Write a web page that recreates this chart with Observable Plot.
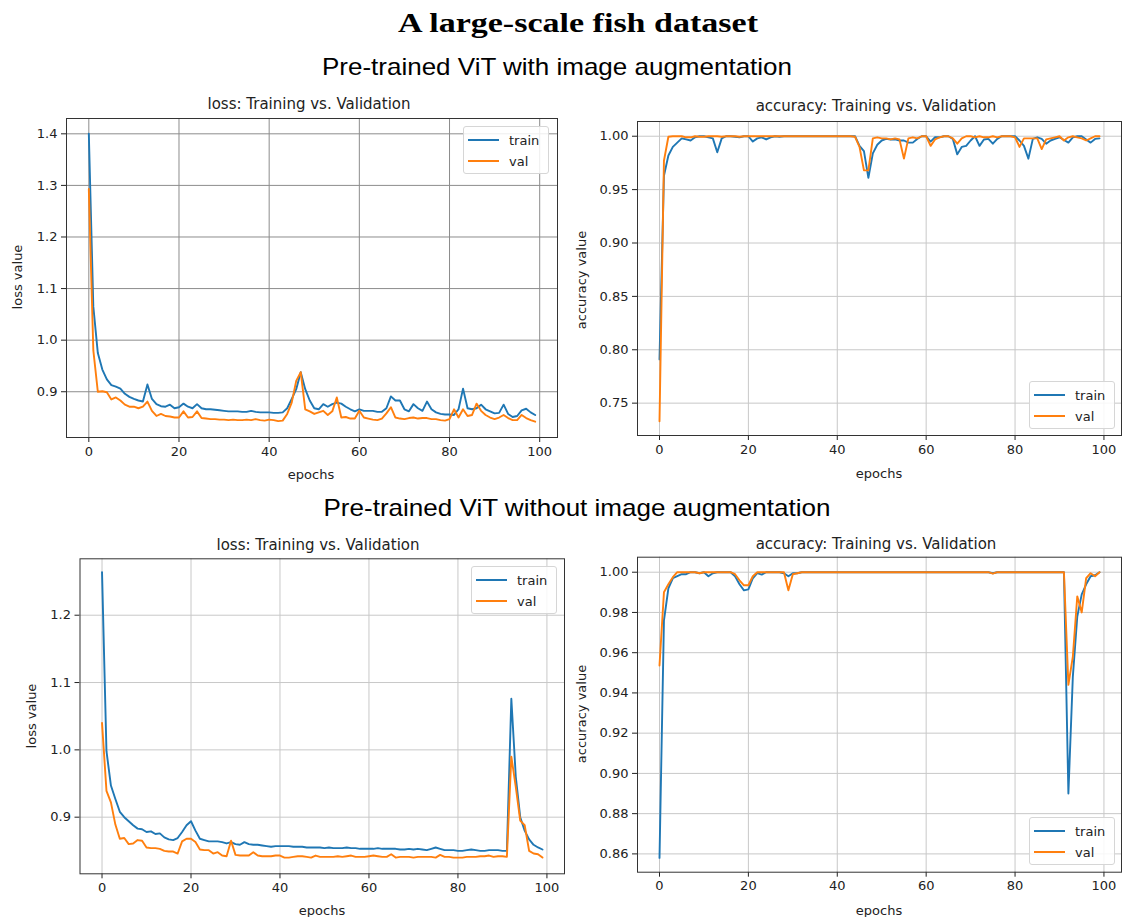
<!DOCTYPE html>
<html>
<head>
<meta charset="utf-8">
<script src="https://cdn.jsdelivr.net/npm/d3@7"></script>
<script src="https://cdn.jsdelivr.net/npm/@observablehq/plot@0.6"></script>
<style>
  html, body { margin: 0; padding: 0; background: #fff; }
  #page { position: relative; width: 1124px; height: 917px; background: #fff; overflow: hidden; }
  .abs { position: absolute; }
  .ptitle { position: absolute; font-family: "DejaVu Sans", sans-serif; font-size: 15px; color: #222; transform: translate(-50%, -50%); white-space: nowrap; }
  .alabel { position: absolute; font-family: "DejaVu Sans", sans-serif; font-size: 13px; color: #222; transform: translate(-50%, -50%); white-space: nowrap; }
  .ylabel { transform: translate(-50%, -50%) rotate(-90deg); }
  .legend { position: absolute; box-sizing: border-box; border: 1px solid #d6d6d6; border-radius: 3px; background: rgba(255,255,255,0.85); font-family: "DejaVu Sans", sans-serif; font-size: 13px; color: #222; }
  .legend .sw { position: absolute; height: 2px; width: 31px; left: 4px; }
  .legend .lt { position: absolute; left: 45px; transform: translateY(-50%); white-space: nowrap; }
</style>
</head>
<body>
<div id="page"></div>
<script>
// ---------------- data ----------------
const epochs = d3.range(100);
const xTicks = [0, 20, 40, 60, 80, 100];
const seriesNames = ["train", "val"];
const seriesColors = ["#1f77b4", "#ff7f0e"];

const mainTitle = "A large-scale fish dataset";
const sectionTitles = ["Pre-trained ViT with image augmentation", "Pre-trained ViT without image augmentation"];
const panelTitles = ["loss: Training vs. Validation", "accuracy: Training vs. Validation"];
const yLabels = ["loss value", "accuracy value"];
const xLabel = "epochs";

// With augmentation: loss
const lossTrainAug = [
  1.400, 1.065, 0.975, 0.943, 0.924, 0.913, 0.910, 0.906, 0.896, 0.890,
  0.886, 0.883, 0.881, 0.914, 0.886, 0.876, 0.872, 0.871, 0.875, 0.868,
  0.870, 0.877, 0.871, 0.868, 0.876, 0.868, 0.866, 0.866, 0.865, 0.864,
  0.863, 0.862, 0.862, 0.862, 0.861, 0.861, 0.863, 0.861, 0.860, 0.860,
  0.860, 0.859, 0.859, 0.860, 0.868, 0.886, 0.905, 0.938, 0.905, 0.883,
  0.868, 0.866, 0.876, 0.871, 0.876, 0.879, 0.877, 0.871, 0.866, 0.862,
  0.866, 0.863, 0.863, 0.863, 0.861, 0.861, 0.868, 0.891, 0.883, 0.883,
  0.866, 0.862, 0.876, 0.868, 0.863, 0.881, 0.866, 0.860, 0.857, 0.856,
  0.856, 0.855, 0.866, 0.906, 0.868, 0.866, 0.868, 0.875, 0.866, 0.862,
  0.858, 0.859, 0.875, 0.857, 0.851, 0.853, 0.864, 0.867, 0.860, 0.855
];
const lossValAug = [
  1.293, 0.980, 0.900, 0.901, 0.899, 0.885, 0.889, 0.883, 0.875, 0.871,
  0.871, 0.868, 0.871, 0.881, 0.863, 0.853, 0.857, 0.853, 0.852, 0.850,
  0.850, 0.862, 0.850, 0.851, 0.862, 0.849, 0.848, 0.847, 0.847, 0.846,
  0.846, 0.845, 0.846, 0.845, 0.845, 0.846, 0.845, 0.847, 0.845, 0.844,
  0.846, 0.845, 0.843, 0.844, 0.857, 0.879, 0.921, 0.938, 0.866, 0.862,
  0.857, 0.860, 0.863, 0.855, 0.862, 0.889, 0.850, 0.851, 0.848, 0.848,
  0.863, 0.850, 0.848, 0.846, 0.845, 0.848, 0.858, 0.870, 0.850, 0.848,
  0.847, 0.849, 0.850, 0.848, 0.849, 0.849, 0.847, 0.847, 0.845, 0.844,
  0.847, 0.866, 0.850, 0.866, 0.853, 0.855, 0.877, 0.863, 0.855, 0.850,
  0.847, 0.850, 0.855, 0.849, 0.845, 0.845, 0.855, 0.849, 0.845, 0.842
];
// With augmentation: accuracy
const accTrainAug = [
  0.791, 0.963, 0.982, 0.990, 0.994, 0.998, 0.997, 0.996, 0.999, 1.000,
  1.000, 0.999, 0.998, 0.985, 0.998, 1.000, 1.000, 0.9995, 0.999, 1.000,
  1.000, 0.995, 0.998, 0.999, 0.997, 0.999, 1.000, 0.9995, 1.000, 1.000,
  1.000, 1.000, 1.000, 1.000, 1.000, 1.000, 1.000, 1.000, 1.000, 1.000,
  1.000, 1.000, 1.000, 1.000, 1.000, 0.991, 0.986, 0.961, 0.984, 0.992,
  0.996, 0.9975, 0.997, 0.997, 0.996, 0.996, 0.994, 0.994, 0.9975, 1.000,
  1.000, 0.995, 0.999, 0.999, 1.000, 1.000, 0.9975, 0.983, 0.990, 0.991,
  0.996, 1.000, 0.991, 0.997, 0.9975, 0.993, 0.9975, 1.000, 1.000, 1.000,
  1.000, 0.996, 0.991, 0.979, 0.9975, 0.999, 0.9975, 0.993, 0.996, 0.9975,
  0.999, 0.9965, 0.994, 0.999, 1.000, 1.000, 0.997, 0.994, 0.9975, 0.998
];
const accValAug = [
  0.733, 0.977, 0.9995, 1.000, 1.000, 1.000, 0.999, 0.999, 1.000, 0.9995,
  0.9995, 1.000, 1.000, 1.000, 0.9995, 1.000, 1.000, 1.000, 0.9995, 1.000,
  1.000, 1.000, 1.000, 1.000, 1.000, 1.000, 1.000, 1.000, 1.000, 1.000,
  1.000, 1.000, 1.000, 1.000, 1.000, 1.000, 1.000, 1.000, 1.000, 1.000,
  1.000, 1.000, 1.000, 1.000, 0.9995, 0.990, 0.968, 0.968, 0.998, 0.999,
  0.998, 0.998, 0.997, 0.998, 0.997, 0.979, 0.998, 0.999, 0.998, 1.000,
  1.000, 0.991, 0.997, 0.999, 1.000, 1.000, 0.998, 0.993, 0.998, 1.000,
  1.000, 0.999, 1.000, 0.999, 0.999, 1.000, 0.999, 1.000, 1.000, 1.000,
  0.999, 0.990, 0.998, 0.998, 0.998, 0.998, 0.988, 0.997, 0.998, 0.999,
  1.000, 0.996, 0.999, 1.000, 0.999, 0.998, 0.996, 0.998, 1.000, 1.000
];
// Without augmentation: loss
const lossTrainNoAug = [
  1.264, 0.998, 0.947, 0.927, 0.908, 0.900, 0.894, 0.888, 0.883, 0.882,
  0.878, 0.879, 0.875, 0.876, 0.870, 0.867, 0.866, 0.869, 0.878, 0.888,
  0.894, 0.880, 0.868, 0.866, 0.864, 0.864, 0.864, 0.863, 0.861, 0.863,
  0.860, 0.859, 0.863, 0.860, 0.859, 0.859, 0.858, 0.857, 0.856, 0.857,
  0.857, 0.857, 0.857, 0.856, 0.856, 0.856, 0.855, 0.855, 0.855, 0.855,
  0.854, 0.855, 0.854, 0.854, 0.854, 0.855, 0.854, 0.854, 0.853, 0.853,
  0.853, 0.853, 0.854, 0.853, 0.853, 0.853, 0.853, 0.852, 0.852, 0.853,
  0.852, 0.853, 0.852, 0.851, 0.853, 0.855, 0.853, 0.851, 0.851, 0.851,
  0.850, 0.850, 0.851, 0.852, 0.851, 0.850, 0.850, 0.851, 0.851, 0.851,
  0.850, 0.850, 1.076, 0.960, 0.900, 0.880, 0.867, 0.859, 0.855, 0.852
];
const lossValNoAug = [
  1.040, 0.939, 0.922, 0.889, 0.868, 0.869, 0.860, 0.861, 0.866, 0.865,
  0.855, 0.854, 0.854, 0.853, 0.850, 0.849, 0.849, 0.846, 0.864, 0.868,
  0.868, 0.863, 0.852, 0.851, 0.851, 0.846, 0.848, 0.843, 0.842, 0.865,
  0.844, 0.843, 0.843, 0.843, 0.848, 0.843, 0.842, 0.842, 0.842, 0.843,
  0.843, 0.840, 0.840, 0.841, 0.842, 0.842, 0.841, 0.840, 0.843, 0.841,
  0.841, 0.841, 0.841, 0.842, 0.841, 0.842, 0.843, 0.841, 0.841, 0.841,
  0.842, 0.843, 0.842, 0.841, 0.841, 0.845, 0.840, 0.841, 0.841, 0.841,
  0.840, 0.841, 0.841, 0.841, 0.841, 0.840, 0.844, 0.841, 0.841, 0.840,
  0.840, 0.840, 0.841, 0.841, 0.841, 0.842, 0.842, 0.843, 0.841, 0.842,
  0.842, 0.841, 0.990, 0.945, 0.895, 0.888, 0.850, 0.846, 0.845, 0.840
];
// Without augmentation: accuracy
const accTrainNoAug = [
  0.858, 0.976, 0.992, 0.997, 0.998, 0.999, 0.999, 1.000, 1.000, 0.9995,
  1.000, 0.998, 0.9995, 1.000, 1.000, 1.000, 1.000, 0.998, 0.994, 0.991,
  0.9915, 0.997, 0.9995, 0.9988, 1.000, 1.000, 1.000, 1.000, 0.9995, 0.998,
  0.9995, 0.9995, 1.000, 1.000, 1.000, 1.000, 1.000, 1.000, 1.000, 1.000,
  1.000, 1.000, 1.000, 1.000, 1.000, 1.000, 1.000, 1.000, 1.000, 1.000,
  1.000, 1.000, 1.000, 1.000, 1.000, 1.000, 1.000, 1.000, 1.000, 1.000,
  1.000, 1.000, 1.000, 1.000, 1.000, 1.000, 1.000, 1.000, 1.000, 1.000,
  1.000, 1.000, 1.000, 1.000, 1.000, 0.9995, 1.000, 1.000, 1.000, 1.000,
  1.000, 1.000, 1.000, 1.000, 1.000, 1.000, 1.000, 1.000, 1.000, 1.000,
  1.000, 1.000, 0.890, 0.948, 0.978, 0.989, 0.994, 0.998, 0.9985, 1.000
];
const accValNoAug = [
  0.9536, 0.990, 0.994, 0.9975, 1.000, 1.000, 1.000, 1.000, 1.000, 0.9995,
  1.000, 1.000, 1.000, 1.000, 1.000, 1.000, 1.000, 0.999, 0.996, 0.9935,
  0.9935, 0.998, 1.000, 1.000, 1.000, 1.000, 1.000, 1.000, 1.000, 0.991,
  0.999, 0.9995, 1.000, 1.000, 1.000, 1.000, 1.000, 1.000, 1.000, 1.000,
  1.000, 1.000, 1.000, 1.000, 1.000, 1.000, 1.000, 1.000, 1.000, 1.000,
  1.000, 1.000, 1.000, 1.000, 1.000, 1.000, 1.000, 1.000, 1.000, 1.000,
  1.000, 1.000, 1.000, 1.000, 1.000, 1.000, 1.000, 1.000, 1.000, 1.000,
  1.000, 1.000, 1.000, 1.000, 1.000, 0.9993, 1.000, 1.000, 1.000, 1.000,
  1.000, 1.000, 1.000, 1.000, 1.000, 1.000, 1.000, 1.000, 1.000, 1.000,
  1.000, 1.000, 0.944, 0.958, 0.988, 0.980, 0.997, 0.9995, 0.998, 1.000
];

const lossTicksAug = [0.9, 1.0, 1.1, 1.2, 1.3, 1.4];
const accTicksAug = [0.75, 0.80, 0.85, 0.90, 0.95, 1.00];
const lossTicksNoAug = [0.9, 1.0, 1.1, 1.2];
const accTicksNoAug = [0.86, 0.88, 0.90, 0.92, 0.94, 0.96, 0.98, 1.00];

// ---------------- drawing ----------------
const page = document.getElementById("page");

function addEl(tag, cls, style, text) {
  const el = document.createElement(tag);
  if (cls) el.className = cls;
  Object.assign(el.style, style);
  if (text != null) el.textContent = text;
  page.appendChild(el);
  return el;
}

function panel(cfg) {
  const data = epochs.map((e, i) => ({epoch: e, train: cfg.train[i], val: cfg.val[i]}));
  const chart = Plot.plot({
    width: cfg.width,
    height: cfg.height,
    marginLeft: cfg.ml, marginTop: cfg.mt, marginRight: cfg.mr, marginBottom: cfg.mb,
    style: {fontFamily: "DejaVu Sans, sans-serif", fontSize: "13px", color: "#222", background: "transparent", overflow: "visible"},
    x: {domain: [-4.95, 103.95], ticks: xTicks, tickSize: 5, tickPadding: 4, tickFormat: d => String(d), label: null},
    y: {domain: cfg.yDomain, ticks: cfg.yTicks, tickSize: 5, tickPadding: 4, tickFormat: d3.format(cfg.fmt), label: null},
    marks: [
      Plot.gridX(xTicks, {stroke: cfg.grid, strokeOpacity: 1, strokeWidth: 1}),
      Plot.gridY(cfg.yTicks, {stroke: cfg.grid, strokeOpacity: 1, strokeWidth: 1}),
      Plot.lineY(data, {x: "epoch", y: "train", stroke: seriesColors[0], strokeWidth: 1.9}),
      Plot.lineY(data, {x: "epoch", y: "val", stroke: seriesColors[1], strokeWidth: 1.9}),
      Plot.frame({stroke: "#333", strokeWidth: 1})
    ]
  });
  const holder = addEl("div", "abs", {left: cfg.left + "px", top: cfg.top + "px"});
  holder.appendChild(chart);

  addEl("div", "ptitle", {left: cfg.titleX + "px", top: cfg.titleY + "px"}, cfg.title);
  addEl("div", "alabel", {left: cfg.xlabX + "px", top: cfg.xlabY + "px"}, xLabel);
  addEl("div", "alabel ylabel", {left: cfg.ylabX + "px", top: cfg.ylabY + "px"}, cfg.ylabel);

  const lg = addEl("div", "legend", {left: cfg.lg[0] + "px", top: cfg.lg[1] + "px", width: "86px", height: "48px"});
  seriesNames.forEach((name, k) => {
    const y = k === 0 ? 12.5 : 34;
    const sw = document.createElement("div");
    sw.className = "sw";
    sw.style.top = (y - 1) + "px";
    sw.style.background = seriesColors[k];
    lg.appendChild(sw);
    const t = document.createElement("div");
    t.className = "lt";
    t.style.top = y + "px";
    t.textContent = name;
    lg.appendChild(t);
  });
}

// page titles (SVG text)
const ns = "http://www.w3.org/2000/svg";
const tsvg = document.createElementNS(ns, "svg");
tsvg.setAttribute("width", 1124);
tsvg.setAttribute("height", 917);
tsvg.style.position = "absolute";
tsvg.style.left = "0px";
tsvg.style.top = "0px";
tsvg.style.pointerEvents = "none";
page.appendChild(tsvg);
function svgText(str, x, y, size, family, weight, len) {
  const t = document.createElementNS(ns, "text");
  t.setAttribute("x", x);
  t.setAttribute("y", y);
  t.setAttribute("text-anchor", "middle");
  t.setAttribute("font-family", family);
  t.setAttribute("font-size", size);
  t.setAttribute("font-weight", weight);
  t.setAttribute("fill", "#000");
  if (len) { t.setAttribute("textLength", len); t.setAttribute("lengthAdjust", "spacingAndGlyphs"); }
  t.textContent = str;
  tsvg.appendChild(t);
}
svgText(mainTitle, 578, 32, 28, "Liberation Serif, Times New Roman, serif", "bold", 360);
svgText(sectionTitles[0], 557, 75, 24, "Liberation Sans, Arial, sans-serif", "normal", 470);
svgText(sectionTitles[1], 577, 516, 24, "Liberation Sans, Arial, sans-serif", "normal", 507);

panel({
  train: lossTrainAug, val: lossValAug, yDomain: [0.8113, 1.4297], yTicks: lossTicksAug, fmt: ".1f",
  grid: "#8c8c8c", left: 0, top: 110, width: 570, height: 380, ml: 66, mt: 8, mr: 13, mb: 53,
  title: panelTitles[0], titleX: 309, titleY: 103.5, xlabX: 311, xlabY: 474, ylabX: 17, ylabY: 277, ylabel: yLabels[0],
  lg: [463, 126]
});
panel({
  train: accTrainAug, val: accValAug, yDomain: [0.7197, 1.0138], yTicks: accTicksAug, fmt: ".2f",
  grid: "#c8c8c8", left: 570, top: 110, width: 554, height: 380, ml: 67, mt: 11, mr: 3, mb: 55,
  title: panelTitles[1], titleX: 876, titleY: 106, xlabX: 879, xlabY: 473, ylabX: 581, ylabY: 280, ylabel: yLabels[1],
  lg: [1029, 381]
});
panel({
  train: lossTrainNoAug, val: lossValNoAug, yDomain: [0.8159, 1.2838], yTicks: lossTicksNoAug, fmt: ".1f",
  grid: "#c8c8c8", left: 0, top: 550, width: 570, height: 367, ml: 79.5, mt: 8.3, mr: 6, mb: 43.7,
  title: panelTitles[0], titleX: 318, titleY: 545, xlabX: 322, xlabY: 910, ylabX: 31, ylabY: 716, ylabel: yLabels[0],
  lg: [471, 566]
});
panel({
  train: accTrainNoAug, val: accValNoAug, yDomain: [0.8509, 1.00746], yTicks: accTicksNoAug, fmt: ".2f",
  grid: "#c8c8c8", left: 570, top: 550, width: 554, height: 367, ml: 67, mt: 6.7, mr: 3, mb: 45.3,
  title: panelTitles[1], titleX: 876, titleY: 544, xlabX: 879, xlabY: 910, ylabX: 581, ylabY: 714, ylabel: yLabels[1],
  lg: [1029, 817]
});
</script>
</body>
</html>
